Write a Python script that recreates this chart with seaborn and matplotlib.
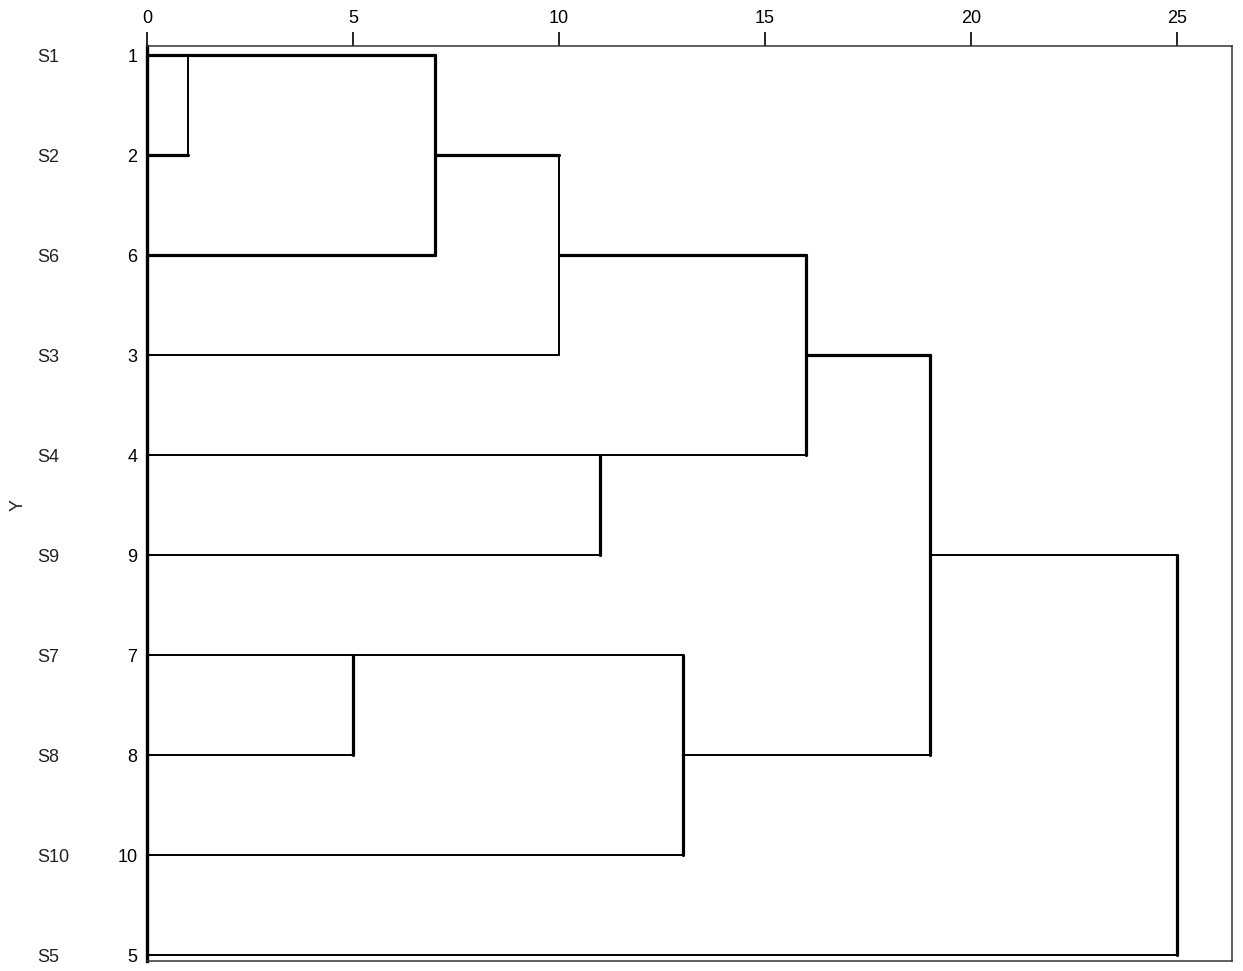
import numpy as np
import pandas as pd
import seaborn as sns
import matplotlib.pyplot as plt

# leaves in display order (top to bottom) and their case numbers
leaf_labels = ["S1", "S2", "S6", "S3", "S4", "S9", "S7", "S8", "S10", "S5"]
case_numbers = [1, 2, 6, 3, 4, 9, 7, 8, 10, 5]

# agglomeration schedule: merge k creates node id len(leaves)+k
merge_left = [0, 10, 11, 4, 12, 6, 15, 14, 17]
merge_right = [1, 2, 3, 5, 13, 7, 8, 16, 9]
merge_dist = [1, 7, 10, 11, 16, 5, 13, 19, 25]  # rescaled distance

dist_ticks = [0, 5, 10, 15, 20, 25]

# drawing style: which links are drawn heavy
heavy_links = {0, 1, 2, 10, 11, 12, 14}
light_joins = {10, 12}

n = len(leaf_labels)
node_x = {i: 0 for i in range(n)}
node_y = {i: i for i in range(n)}
rows = []
seg = 0
for k, (a, b, d) in enumerate(zip(merge_left, merge_right, merge_dist)):
    nid = n + k
    for c in (a, b):
        heavy = c in heavy_links
        rows.append(dict(seg=seg, x=node_x[c], y=node_y[c], heavy=heavy))
        rows.append(dict(seg=seg, x=d, y=node_y[c], heavy=heavy))
        seg += 1
    heavy = nid not in light_joins
    rows.append(dict(seg=seg, x=d, y=node_y[a], heavy=heavy))
    rows.append(dict(seg=seg, x=d, y=node_y[b], heavy=heavy))
    seg += 1
    node_x[nid] = d
    node_y[nid] = (node_y[a] + node_y[b]) // 2
df = pd.DataFrame(rows)

sns.set_theme(style="white")
plt.rcParams['font.family'] = ['Liberation Sans', 'DejaVu Sans']

fig = plt.figure(figsize=(12.43, 9.71), dpi=100)
ax = fig.add_axes([147 / 1243, 1 - 961 / 971, 1085 / 1243, 915 / 971])

sns.lineplot(data=df[~df.heavy], x="x", y="y", units="seg", estimator=None,
             sort=False, color="black", linewidth=1.4, ax=ax, legend=False)
sns.lineplot(data=df[df.heavy], x="x", y="y", units="seg", estimator=None,
             sort=False, color="black", linewidth=2.3, ax=ax, legend=False)

ax.set_xlim(0, 26.33)
ax.set_ylim(9.06, -0.09)

ax.xaxis.tick_top()
ax.set_xticks(dist_ticks)
ax.set_xticklabels([str(t) for t in dist_ticks], fontsize=13)
ax.tick_params(axis="x", direction="out", length=10, width=1.2, pad=4,
               colors="black", top=True, bottom=False)

ax.set_yticks(range(n))
ax.set_yticklabels([str(c) for c in case_numbers], fontsize=13)
ax.tick_params(axis="y", length=0, pad=7, colors="black")
for t in ax.get_yticklabels():
    t.set_va("center_baseline")

for i, lab in enumerate(leaf_labels):
    ax.text(-0.101, i, lab, transform=ax.get_yaxis_transform(),
            ha="left", va="center_baseline", fontsize=13, color="#222222")

ax.set_xlabel("")
ax.set_ylabel("")
fig.text(18 / 1243, 1 - 505 / 971, "Y", rotation=90, ha="center",
         va="center", fontsize=13, color="#222222")

for side in ["top", "right", "bottom"]:
    ax.spines[side].set_color("#333333")
    ax.spines[side].set_linewidth(1.1)
ax.spines["left"].set_color("black")
ax.spines["left"].set_linewidth(2.4)

fig.savefig("out.png", dpi=100)
